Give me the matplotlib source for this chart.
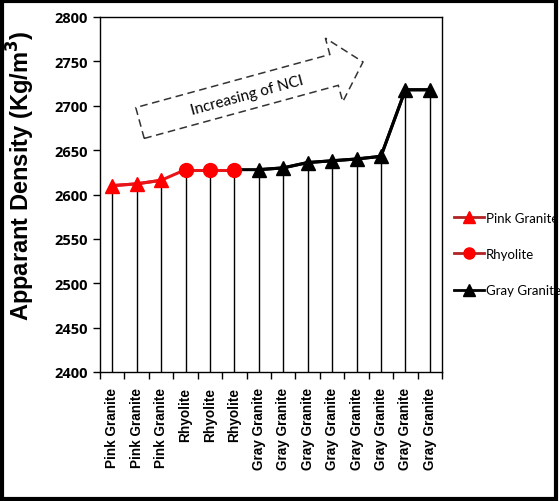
import numpy as np
import matplotlib
matplotlib.use("Agg")
import matplotlib.pyplot as plt
from matplotlib.patches import Polygon, Rectangle
from matplotlib.lines import Line2D

categories = ["Pink Granite"] * 3 + ["Rhyolite"] * 3 + ["Gray Granite"] * 8
pink_values = [2610, 2612, 2616]
rhyolite_values = [2628, 2628, 2628]
gray_values = [2628, 2630, 2636, 2638, 2640, 2643, 2718, 2718]
yticks = [2400, 2450, 2500, 2550, 2600, 2650, 2700, 2750, 2800]

W, H = 560, 502
fig = plt.figure(figsize=(W / 100, H / 100), dpi=100)
ax = fig.add_axes([100 / W, 1 - 373 / H, 342 / W, 355 / H])

n = len(categories)
x = np.arange(n)
pink_x = x[:3]
rhy_x = x[3:6]
gray_x = x[6:]
all_vals = pink_values + rhyolite_values + gray_values

ax.vlines(x, 2400, all_vals, color="black", lw=1.0, zorder=1)
ax.plot(np.concatenate([rhy_x[-1:], gray_x]), [rhyolite_values[-1]] + gray_values,
        color="black", lw=2.2, zorder=2)
ax.plot(gray_x, gray_values, color="black", lw=2.2, marker="^", ms=10,
        markerfacecolor="black", markeredgecolor="black", zorder=3)
ax.plot(np.concatenate([pink_x, rhy_x[:1]]), pink_values + [rhyolite_values[0]],
        color="#E8161B", lw=2.2, zorder=2)
ax.plot(pink_x, pink_values, color="#E8161B", lw=2.2, marker="^", ms=10,
        markerfacecolor="#FF0000", markeredgecolor="#FF0000", zorder=3)
ax.plot(rhy_x, rhyolite_values, color="#E8161B", lw=2.2, marker="o", ms=10,
        markerfacecolor="#FF0000", markeredgecolor="#FF0000", zorder=3)

ax.set_xlim(-0.5, n - 0.5)
ax.set_ylim(2400, 2800)
ax.set_yticks(yticks)
ax.set_yticklabels([str(v) for v in yticks], fontsize=10.5, fontweight="bold",
                   family="Open Sans")
ax.set_xticks(x)
ax.set_xticklabels(categories, rotation=90, fontsize=9.8, fontweight="bold",
                   family="Liberation Sans", va="top")
ax.tick_params(axis="x", which="major", length=0, pad=11)
ax.set_xticks(np.arange(-0.5, n, 1), minor=True)
ax.tick_params(axis="x", which="minor", length=5, direction="out", width=1)
ax.tick_params(axis="y", length=5, direction="out", width=1, pad=4)
for s in ax.spines.values():
    s.set_linewidth(1.0)
ax.set_ylabel("Apparant Density (Kg/m$\\mathbf{^3}$)", fontsize=17, fontweight="bold",
              family="Liberation Sans")
ax.yaxis.set_label_coords(-0.183, 0.555)

handles = [
    Line2D([], [], color="#B22222", lw=2, marker="^", ms=8, markerfacecolor="#FF0000",
           markeredgecolor="#FF0000"),
    Line2D([], [], color="#B22222", lw=2, marker="o", ms=8, markerfacecolor="#FF0000",
           markeredgecolor="#FF0000"),
    Line2D([], [], color="black", lw=2, marker="^", ms=8, markerfacecolor="black"),
]
fig.legend(handles, ["Pink Granite", "Rhyolite", "Gray Granite"],
           loc="center left", bbox_to_anchor=(442 / W, 1 - 255 / H),
           frameon=False, prop={"family": "Lato", "size": 9.5},
           handlelength=2.3, labelspacing=1.85, handletextpad=0.15)

# dashed arrow annotation (pixel coordinates -> figure fraction)
T = np.array([140.0, 124.0])
P = np.array([363.0, 63.0])
u = (P - T) / np.linalg.norm(P - T)
nrm = np.array([-u[1], u[0]])
Hb = P - 30 * u
pts = [T + 16 * nrm, Hb + 16 * nrm, Hb + 33 * nrm, P, Hb - 33 * nrm, Hb - 16 * nrm, T - 16 * nrm]
pts = [(p[0] / W, 1 - p[1] / H) for p in pts]
fig.patches.append(Polygon(pts, closed=True, fill=False, ls=(0, (5, 3)), lw=1.1,
                           edgecolor="#333333", transform=fig.transFigure, figure=fig))
angle = np.degrees(np.arctan2(-(P - T)[1], (P - T)[0]))
mid = np.array([247.0, 96.0])
fig.text(mid[0] / W, 1 - mid[1] / H, "Increasing of NCI", rotation=angle,
         ha="center", va="center", fontsize=11, family="Lato",
         rotation_mode="anchor")

fig.patches.append(Rectangle((2 / W, 2 / H), 554 / W, 498 / H, fill=False, lw=3,
                             edgecolor="black", transform=fig.transFigure, figure=fig))

fig.savefig("out.png", dpi=100)
